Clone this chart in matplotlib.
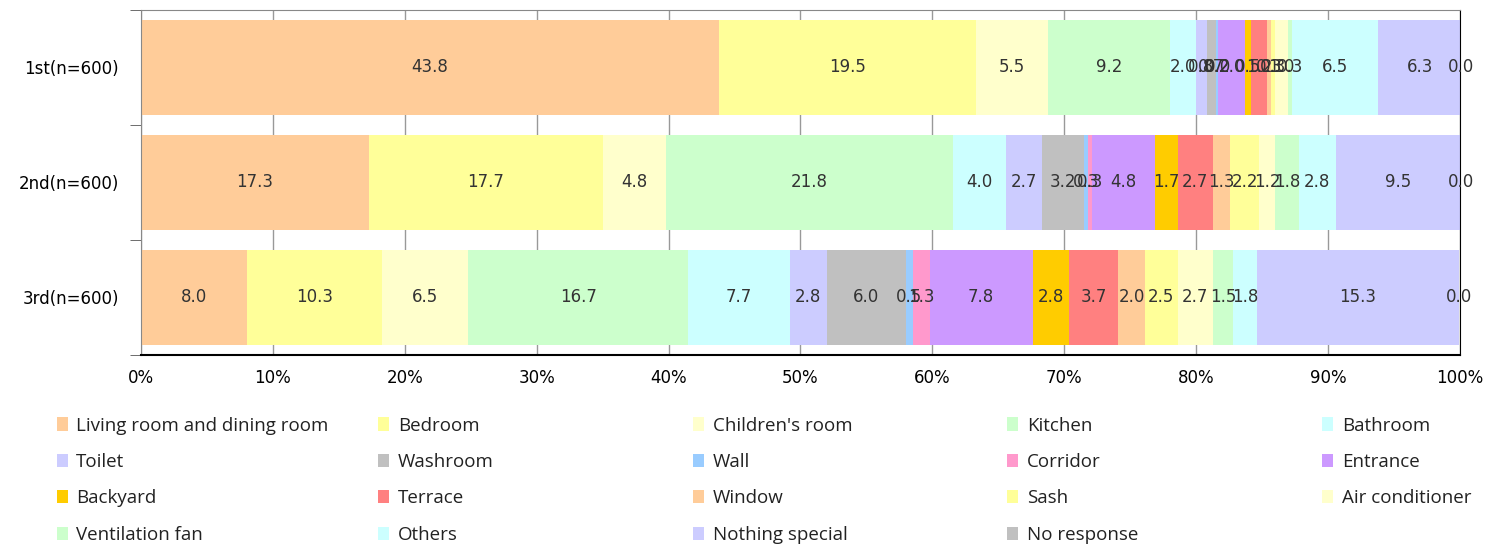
import matplotlib
matplotlib.use('Agg')
import matplotlib.pyplot as plt
import numpy as np

# rows (top to bottom)
rows = ['1st(n=600)', '2nd(n=600)', '3rd(n=600)']

places = ['Living room and dining room', 'Bedroom', "Children's room", 'Kitchen', 'Bathroom',
          'Toilet', 'Washroom', 'Wall', 'Corridor', 'Entrance',
          'Backyard', 'Terrace', 'Window', 'Sash', 'Air conditioner',
          'Ventilation fan', 'Others', 'Nothing special', 'No response']

first = [43.8, 19.5, 5.5, 9.2, 2.0, 0.8, 0.7, 0.2, 0.0, 2.0,
         0.5, 1.2, 0.3, 0.3, 1.0, 0.3, 6.5, 6.3, 0.0]
second = [17.3, 17.7, 4.8, 21.8, 4.0, 2.7, 3.2, 0.3, 0.3, 4.8,
          1.7, 2.7, 1.3, 2.2, 1.2, 1.8, 2.8, 9.5, 0.0]
third = [8.0, 10.3, 6.5, 16.7, 7.7, 2.8, 6.0, 0.5, 1.3, 7.8,
         2.8, 3.7, 2.0, 2.5, 2.7, 1.5, 1.8, 15.3, 0.0]

colors = ['#FFCC99', '#FFFF99', '#FFFFCC', '#CCFFCC', '#CCFFFF',
          '#CCCCFF', '#C0C0C0', '#99CCFF', '#FF99CC', '#CC99FF',
          '#FFCC00', '#FF8080', '#FFCC99', '#FFFF99', '#FFFFCC',
          '#CCFFCC', '#CCFFFF', '#CCCCFF', '#C0C0C0']

data = np.array([first, second, third])

fig = plt.figure(figsize=(14.91, 5.46), dpi=100)
ax = fig.add_axes([0.0946, 0.35, 0.8845, 0.632])

ypos = np.arange(len(rows))
left = np.zeros(len(rows))
handles = []
for k, name in enumerate(places):
    vals = data[:, k]
    b = ax.barh(ypos, vals, left=left, height=0.83, color=colors[k],
                label=name, zorder=2)
    handles.append(b)
    for y, v, l in zip(ypos, vals, left):
        ax.text(l + v / 2, y, '{:.1f}'.format(v), ha='center', va='center',
                fontsize=12, color='#333333', zorder=3)
    left = left + vals

ax.set_xlim(0, 100)
ax.set_ylim(2.5, -0.5)
ax.set_xticks(np.arange(0, 101, 10))
ax.set_xticklabels(['{}%'.format(t) for t in range(0, 101, 10)], fontsize=12)
ax.set_yticks(ypos)
ax.set_yticklabels(rows, fontsize=12)
ax.set_yticks(np.arange(-0.5, 2.6, 1), minor=True)
ax.tick_params(axis='y', which='major', length=0, pad=16)
ax.tick_params(axis='y', which='minor', length=8, color='#555555')
ax.tick_params(axis='x', length=0, pad=10)
ax.xaxis.grid(True, color='#999999', linewidth=1, zorder=0)
ax.set_axisbelow(True)
for s in ['top', 'left']:
    ax.spines[s].set_color('#888888')
ax.spines['bottom'].set_color('black')
ax.spines['bottom'].set_linewidth(1.5)
ax.spines['right'].set_color('black')

# legend: 5 evenly spaced columns, filled row by row
ncol = 5
col_x = [0.038, 0.2535, 0.4648, 0.6754, 0.8867]
for j in range(ncol):
    idx = [i * ncol + j for i in range(4) if i * ncol + j < len(places)]
    lg = fig.legend([handles[i] for i in idx], [places[i] for i in idx],
                    loc='upper left', bbox_to_anchor=(col_x[j], 0.237),
                    frameon=False, handlelength=0.6, handleheight=0.7,
                    handletextpad=0.45, labelspacing=0.98,
                    borderaxespad=0, borderpad=0,
                    prop={'family': 'Open Sans', 'size': 13.5})
    for t in lg.get_texts():
        t.set_color('#222222')

fig.savefig('out.png', dpi=100)
